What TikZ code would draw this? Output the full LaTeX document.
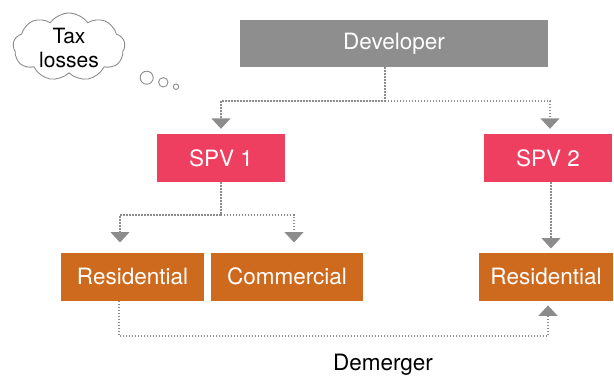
\documentclass[tikz,border=0pt]{standalone}
\usepackage{fontspec}
\setmainfont{TeX Gyre Heros}
\usetikzlibrary{arrows.meta,shapes.symbols,calc}

\definecolor{devgray}{HTML}{8E8E8F}
\definecolor{spvred}{HTML}{EF3F61}
\definecolor{unitorange}{HTML}{CD6A1E}
\definecolor{linkgray}{HTML}{8C8C8C}

\tikzset{
  box/.style={draw=none, text=white, inner sep=0pt, minimum height=48pt,
    font=\fontsize{22.5}{27}\selectfont},
  devbox/.style={box, fill=devgray, minimum height=47pt},
  spvbox/.style={box, fill=spvred},
  unitbox/.style={box, fill=unitorange},
  link/.style={draw=linkgray, line width=1.4pt, dash pattern=on 1.4pt off 1.6pt,
    -{Triangle[width=19pt,length=10.5pt]}},
  bubble/.style={circle, draw=gray!90, line width=0.9pt, inner sep=0pt, fill=white},
}

\begin{document}
\begin{tikzpicture}[x=1pt, y=-1pt]
\useasboundingbox (0,0) rectangle (614,378);

% thought cloud (text box given zero height so it can sit a little low)
\node[cloud, cloud puffs=9, cloud puff arc=110, cloud ignores aspect, draw=gray!90,
      line width=0.9pt, minimum width=112pt, minimum height=68pt, inner sep=0pt,
      font=\fontsize{21}{24}\selectfont]
  (cloud) at (69,47)
  {\raisebox{-9pt}[0pt][0pt]{\begin{tabular}{@{}c@{}}Tax\\losses\end{tabular}}};
\node[bubble, minimum size=13pt] (bub1) at (146.7,77.7) {};
\node[bubble, minimum size=9.4pt] (bub2) at (163.3,82.3) {};
\node[bubble, minimum size=5.4pt] (bub3) at (176,86.7) {};

% entities
\node[devbox, minimum width=308pt] (dev) at (394,43.5) {Developer};
\node[spvbox, minimum width=128pt] (spv1) at (221,158) {SPV 1};
\node[spvbox, minimum width=128pt] (spv2) at (548,158) {SPV 2};
\node[unitbox, minimum width=143pt] (res1) at (132.5,276.7) {Residential};
\node[unitbox, minimum width=152pt] (com) at (287,276.7) {Commercial};
\node[unitbox, minimum width=134pt] (res2) at (546,276.7) {Residential};

% junction points
\coordinate (j0) at (385,101);
\coordinate (j1) at (221,215);
\coordinate (b1) at (120,215);
\coordinate (b2) at (294,215);
\coordinate (d0) at (119,336);
\coordinate (d1) at (548,336);

% developer to SPVs
\draw[link, shorten >=5pt] (dev.south -| j0) -- (j0) -| (spv1.north);
\draw[link, shorten >=5pt] (j0) -| ($(spv2.north)+(2,0)$);

% SPV 1 to its units
\draw[link, shorten >=10pt] (spv1.south) -- (j1) -- (b1) -- (b1 |- res1.north);
\draw[link, shorten >=10pt] (j1) -- (b2) -- (b2 |- com.north);

% SPV 2 to its unit
\draw[link, shorten >=4pt] ($(spv2.south)+(3,0)$) -- ($(res2.north)+(5,0)$);

% demerger
\draw[link, shorten >=4.5pt] (d0 |- res1.south) -- (d0) -- (d1) -- (d1 |- res2.south);
\node[font=\fontsize{22.5}{27}\selectfont, text=black] (dem) at (383,365) {Demerger};
\end{tikzpicture}
\end{document}
